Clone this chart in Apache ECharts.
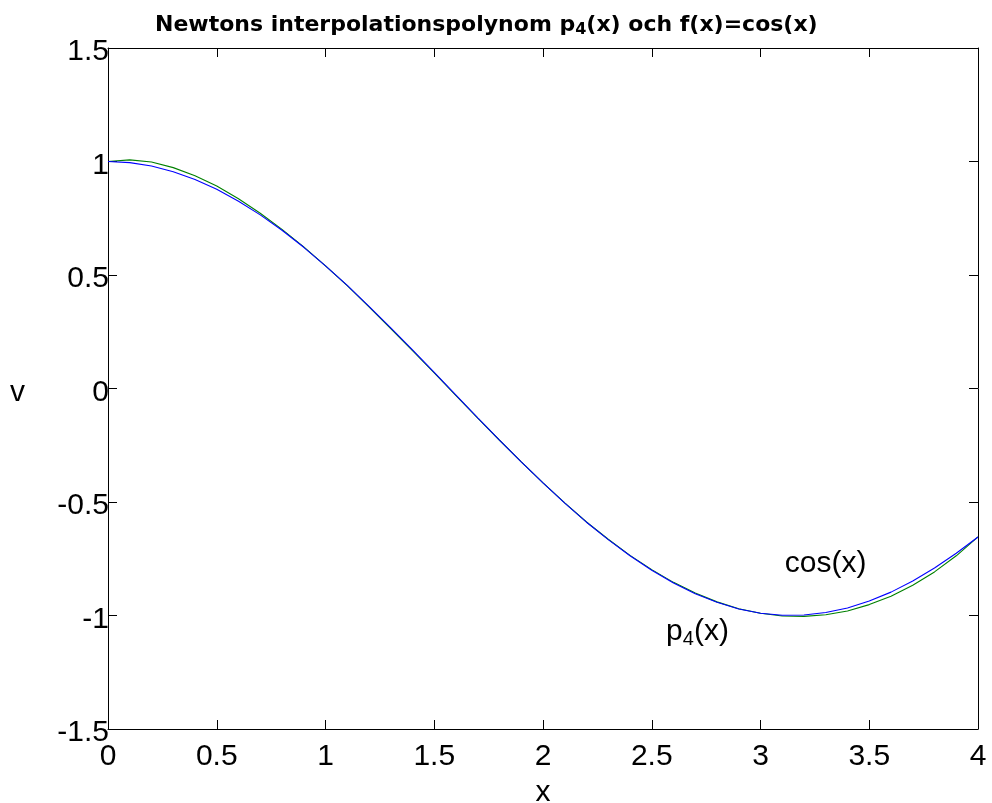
<!DOCTYPE html>
<html>
<head>
<meta charset="utf-8">
<title>Newtons interpolationspolynom</title>
<script src="https://cdn.jsdelivr.net/npm/echarts@6/dist/echarts.min.js"></script>
<style>
  html, body { margin: 0; padding: 0; background: #fff; }
  #chart { width: 992px; height: 803px; }
</style>
</head>
<body>
<div id="chart"></div>
<script>
// Sample points on [0, 4]
const xValues = [0.0, 0.1, 0.2, 0.3, 0.4, 0.5, 0.6, 0.7, 0.8, 0.9,
                 1.0, 1.1, 1.2, 1.3, 1.4, 1.5, 1.6, 1.7, 1.8, 1.9,
                 2.0, 2.1, 2.2, 2.3, 2.4, 2.5, 2.6, 2.7, 2.8, 2.9,
                 3.0, 3.1, 3.2, 3.3, 3.4, 3.5, 3.6, 3.7, 3.8, 3.9, 4.0];

// f(x) = cos(x) (blue)
const cosValues = [1.000, 0.995, 0.980, 0.955, 0.921, 0.878, 0.825, 0.765, 0.697, 0.622,
                   0.540, 0.454, 0.362, 0.267, 0.170, 0.071, -0.029, -0.129, -0.227, -0.323,
                   -0.416, -0.505, -0.589, -0.666, -0.737, -0.801, -0.857, -0.904, -0.942, -0.971,
                   -0.990, -0.999, -0.998, -0.987, -0.967, -0.936, -0.897, -0.848, -0.791, -0.726, -0.654];

// Newton interpolation polynomial p4(x) (green)
const p4Values = [1.000, 1.007, 0.998, 0.973, 0.937, 0.892, 0.836, 0.772, 0.701, 0.624,
                  0.540, 0.453, 0.360, 0.264, 0.167, 0.069, -0.031, -0.130, -0.228, -0.323,
                  -0.416, -0.504, -0.588, -0.664, -0.735, -0.798, -0.854, -0.901, -0.940, -0.970,
                  -0.990, -1.002, -1.004, -0.997, -0.980, -0.952, -0.915, -0.867, -0.808, -0.737, -0.654];

const xTickLabels = ['0', '0.5', '1', '1.5', '2', '2.5', '3', '3.5', '4'];
const yTickLabels = ['-1.5', '-1', '-0.5', '0', '0.5', '1', '1.5'];

// Text annotations placed in data coordinates
const cosLabelPos = [3.112, -0.774];
const p4LabelPos = [2.566, -1.072];

const FONT = '"Liberation Sans", Arial, sans-serif';

const chart = echarts.init(document.getElementById('chart'), null, { renderer: 'canvas' });

const tickStyle = { show: true, inside: true, length: 9, lineStyle: { color: '#000', width: 1 } };
const lineStyle = { show: true, onZero: false, lineStyle: { color: '#000', width: 1 } };

chart.setOption({
  animation: false,
  backgroundColor: '#fff',
  title: {
    text: 'Newtons interpolationspolynom p{s|4}(x) och f(x)=cos(x)',
    left: 155,
    top: 12,
    padding: 0,
    textStyle: {
      fontFamily: '"DejaVu Sans", sans-serif',
      fontWeight: 'bold',
      fontSize: 22,
      lineHeight: 26,
      color: '#000',
      rich: {
        s: {
          fontFamily: '"DejaVu Sans", sans-serif',
          fontWeight: 'bold',
          fontSize: 16,
          lineHeight: 14,
          verticalAlign: 'bottom',
          color: '#000'
        }
      }
    }
  },
  grid: { left: 108, right: 14, top: 48, bottom: 74, containLabel: false, outerBoundsMode: 'none' },
  xAxis: [
    {
      type: 'value', position: 'bottom', min: 0, max: 4, interval: 0.5,
      axisLine: lineStyle, axisTick: tickStyle, splitLine: { show: false },
      axisLabel: {
        margin: 13, fontFamily: FONT, fontSize: 30, color: '#000',
        formatter: v => xTickLabels[Math.round(v / 0.5)]
      },
      name: 'x', nameLocation: 'middle', nameGap: 49,
      nameTextStyle: { fontFamily: FONT, fontSize: 30, color: '#000' }
    },
    {
      type: 'value', position: 'top', min: 0, max: 4, interval: 0.5,
      axisLine: lineStyle, axisTick: tickStyle, splitLine: { show: false },
      axisLabel: { show: false }
    }
  ],
  yAxis: [
    {
      type: 'value', position: 'left', min: -1.5, max: 1.5, interval: 0.5,
      axisLine: lineStyle, axisTick: tickStyle, splitLine: { show: false },
      axisLabel: {
        margin: -1, fontFamily: FONT, fontSize: 30, color: '#000',
        verticalAlign: 'top', lineHeight: 8,
        formatter: v => yTickLabels[Math.round((v + 1.5) / 0.5)]
      },
      name: 'v', nameLocation: 'middle', nameRotate: 0, nameGap: 83,
      nameTextStyle: { fontFamily: FONT, fontSize: 30, color: '#000', verticalAlign: 'top', lineHeight: 8 }
    },
    {
      type: 'value', position: 'right', min: -1.5, max: 1.5, interval: 0.5,
      axisLine: lineStyle, axisTick: tickStyle, splitLine: { show: false },
      axisLabel: { show: false }
    }
  ],
  series: [
    {
      name: 'p4(x)', type: 'line', showSymbol: false, symbol: 'none',
      data: xValues.map((x, i) => [x, p4Values[i]]),
      lineStyle: { color: '#008000', width: 1.1 }, z: 2
    },
    {
      name: 'cos(x)', type: 'line', showSymbol: false, symbol: 'none',
      data: xValues.map((x, i) => [x, cosValues[i]]),
      lineStyle: { color: '#0000ff', width: 1.1 }, z: 3
    },
    {
      name: 'labels', type: 'scatter', symbolSize: 0, silent: true,
      itemStyle: { color: '#000', opacity: 1 },
      data: [
        { value: cosLabelPos, label: { formatter: 'cos(x)' } },
        { value: p4LabelPos, label: { formatter: 'p{s|4}(x)' } }
      ],
      label: {
        show: true, position: 'right', distance: 0,
        fontFamily: FONT, fontSize: 30, lineHeight: 36, color: '#000',
        rich: {
          s: { fontFamily: FONT, fontSize: 20, lineHeight: 21, verticalAlign: 'bottom', color: '#000' }
        }
      },
      z: 4
    }
  ]
});
</script>
</body>
</html>
